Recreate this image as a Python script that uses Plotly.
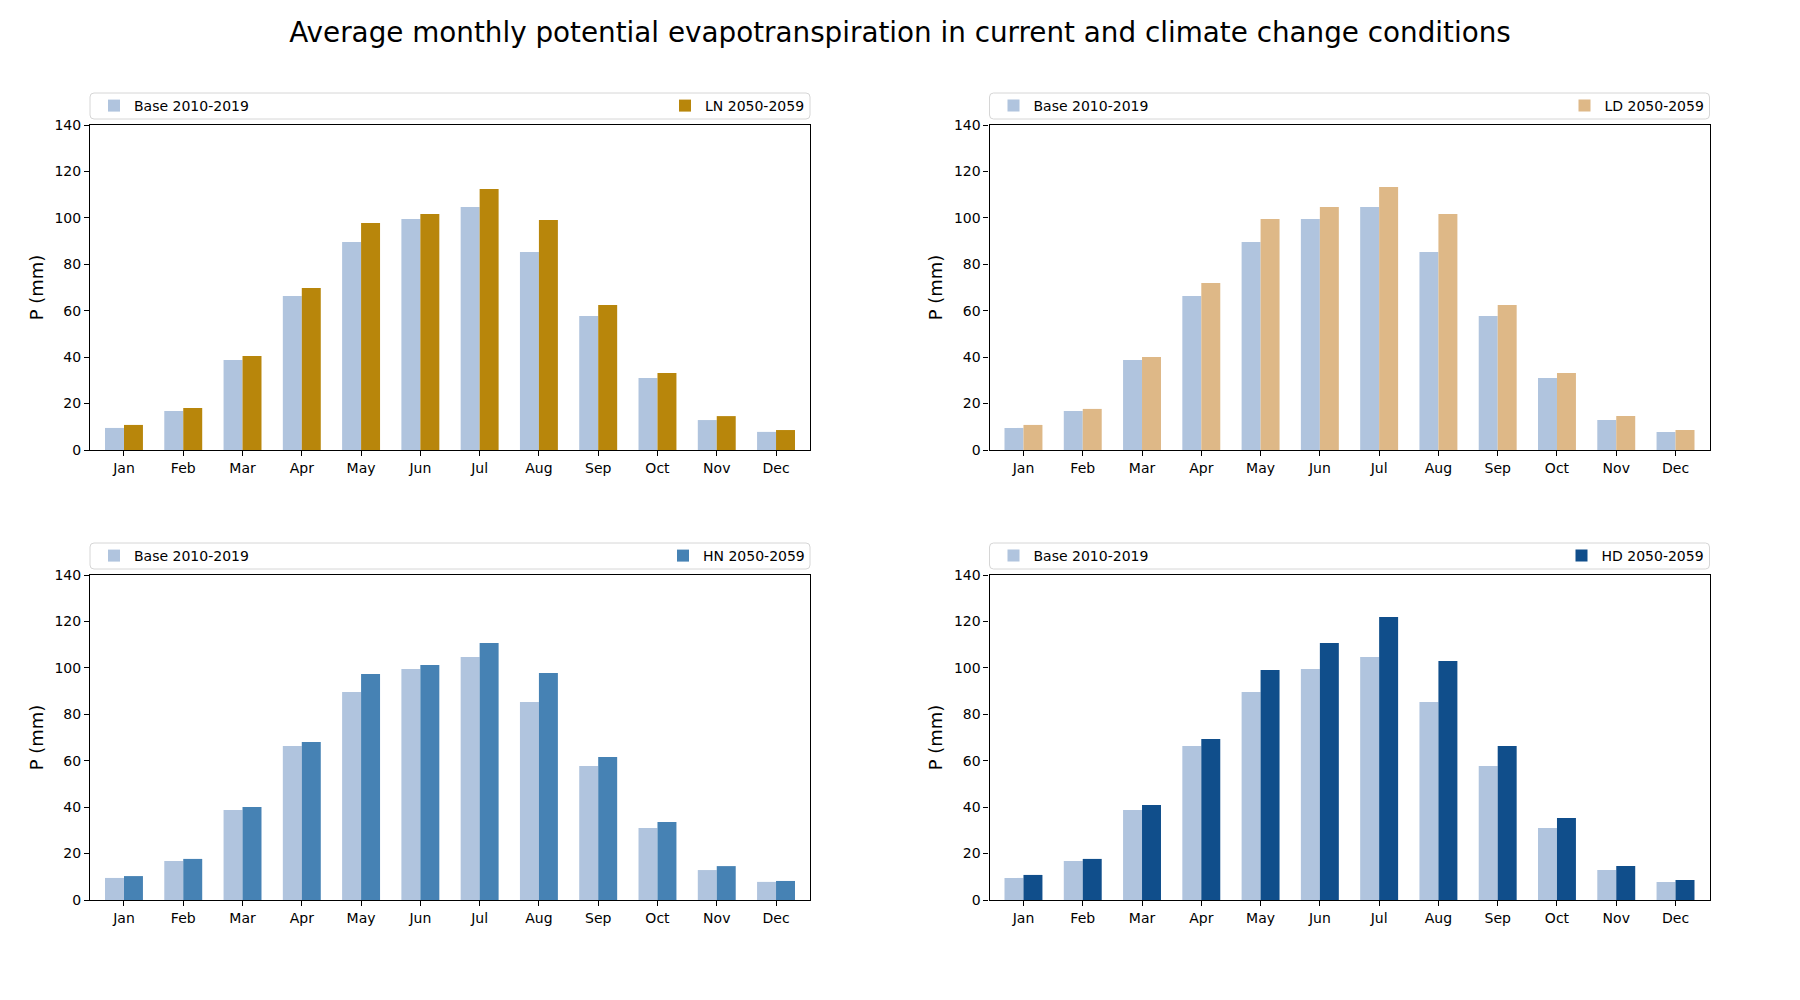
import plotly.graph_objects as go

months = ["Jan", "Feb", "Mar", "Apr", "May", "Jun", "Jul", "Aug", "Sep", "Oct", "Nov", "Dec"]
base = [9.5, 16.8, 38.8, 66.3, 89.6, 99.5, 104.7, 85.3, 57.7, 31.0, 12.9, 7.8]
ln = [10.8, 18.1, 40.5, 69.8, 97.8, 101.7, 112.4, 99.1, 62.5, 33.2, 14.6, 8.6]
ld = [10.8, 17.7, 40.1, 71.9, 99.5, 104.7, 113.3, 101.7, 62.5, 33.2, 14.6, 8.6]
hn = [10.3, 17.7, 40.1, 68.1, 97.4, 101.2, 110.7, 97.8, 61.6, 33.6, 14.6, 8.2]
hd = [10.8, 17.7, 40.9, 69.4, 99.1, 110.7, 121.9, 103.0, 66.3, 35.3, 14.6, 8.6]

base_label = "Base 2010-2019"
scen_labels = ["LN 2050-2059", "LD 2050-2059", "HN 2050-2059", "HD 2050-2059"]
scen_values = [ln, ld, hn, hd]
base_color = "#B0C4DE"
scen_colors = ["#B8860B", "#DEB887", "#4682B4", "#104E8B"]
title_text = "Average monthly potential evapotranspiration in current and climate change conditions"
y_title = "P (mm)"

W, H = 1800, 1000
FONT = "DejaVu Sans"
# pixel geometry of the four panels (left, right, top, bottom)
panels = [(90, 810, 125, 450), (989.5, 1709.5, 125, 450),
          (90, 810, 575, 900), (989.5, 1709.5, 575, 900)]


def px(x):
    return x / W


def py(y):
    return 1 - y / H


fig = go.Figure()
shapes = []
layout_extra = {}
for i, (l, r, t, b) in enumerate(panels):
    xa = "x" if i == 0 else f"x{i+1}"
    ya = "y" if i == 0 else f"y{i+1}"
    lg_a = "legend" if i == 0 else f"legend{2*i+1}"
    lg_b = f"legend{2*i+2}"
    fig.add_trace(go.Bar(x=months, y=base, name=base_label, marker_color=base_color,
                         marker_line_width=0, xaxis=xa, yaxis=ya, legend=lg_a,
                         offsetgroup="a"))
    fig.add_trace(go.Bar(x=months, y=scen_values[i], name=scen_labels[i],
                         marker_color=scen_colors[i], marker_line_width=0,
                         xaxis=xa, yaxis=ya, legend=lg_b, offsetgroup="b"))
    axkey = "xaxis" if i == 0 else f"xaxis{i+1}"
    aykey = "yaxis" if i == 0 else f"yaxis{i+1}"
    layout_extra[axkey] = dict(
        domain=[l / W, r / W], anchor=ya, type="category", automargin=False,
        categoryorder="array", categoryarray=months,
        range=[-0.573, 11.573], showgrid=False, zeroline=False,
        showline=True, linecolor="black", linewidth=1.1, mirror=True,
        ticks="outside", ticklen=5, tickwidth=1.1, tickcolor="black",
        tickfont=dict(family=FONT, size=14, color="black"),
    )
    layout_extra[aykey] = dict(
        domain=[1 - b / H, 1 - t / H], anchor=xa, range=[0, 140], automargin=False,
        tickmode="linear", tick0=0, dtick=20, showgrid=False, zeroline=False,
        showline=True, linecolor="black", linewidth=1.1, mirror=True,
        ticks="outside", ticklen=5, tickwidth=1.1, tickcolor="black",
        tickfont=dict(family=FONT, size=14, color="black"),
        title=dict(text=y_title, font=dict(family=FONT, size=18, color="black"), standoff=6),
    )
    # legend frame
    bt, bb = t - 32, t - 6
    bl, br = l, r
    rad = 4
    path = (f"M {px(bl+rad)},{py(bt)} L {px(br-rad)},{py(bt)} Q {px(br)},{py(bt)} {px(br)},{py(bt+rad)} "
            f"L {px(br)},{py(bb-rad)} Q {px(br)},{py(bb)} {px(br-rad)},{py(bb)} "
            f"L {px(bl+rad)},{py(bb)} Q {px(bl)},{py(bb)} {px(bl)},{py(bb-rad)} "
            f"L {px(bl)},{py(bt+rad)} Q {px(bl)},{py(bt)} {px(bl+rad)},{py(bt)} Z")
    shapes.append(dict(type="path", path=path, xref="paper", yref="paper",
                       line=dict(color="#d6d6d6", width=1), fillcolor="white", layer="below"))
    ymid = py((bt + bb) / 2)
    legend_common = dict(orientation="h", bgcolor="rgba(0,0,0,0)", borderwidth=0,
                         font=dict(family=FONT, size=14, color="black"),
                         xref="container", yref="container",
                         yanchor="middle", y=ymid, itemclick=False, itemdoubleclick=False)
    layout_extra[lg_a] = dict(legend_common, x=px(l + 4), xanchor="left")
    layout_extra[lg_b] = dict(legend_common, x=px(r), xanchor="right")

fig.update_layout(
    width=W, height=H, margin=dict(l=0, r=0, t=0, b=0, autoexpand=False),
    paper_bgcolor="white", plot_bgcolor="white",
    barmode="group", bargap=0.36, bargroupgap=0,
    font=dict(family=FONT, size=14, color="black"),
    title=dict(text=title_text, x=0.5, xanchor="center", y=1 - 32 / H, yanchor="middle",
               font=dict(family=FONT, size=27.8, color="black")),
    shapes=shapes,
    showlegend=True,
    **layout_extra,
)

fig.write_html("out.html")
